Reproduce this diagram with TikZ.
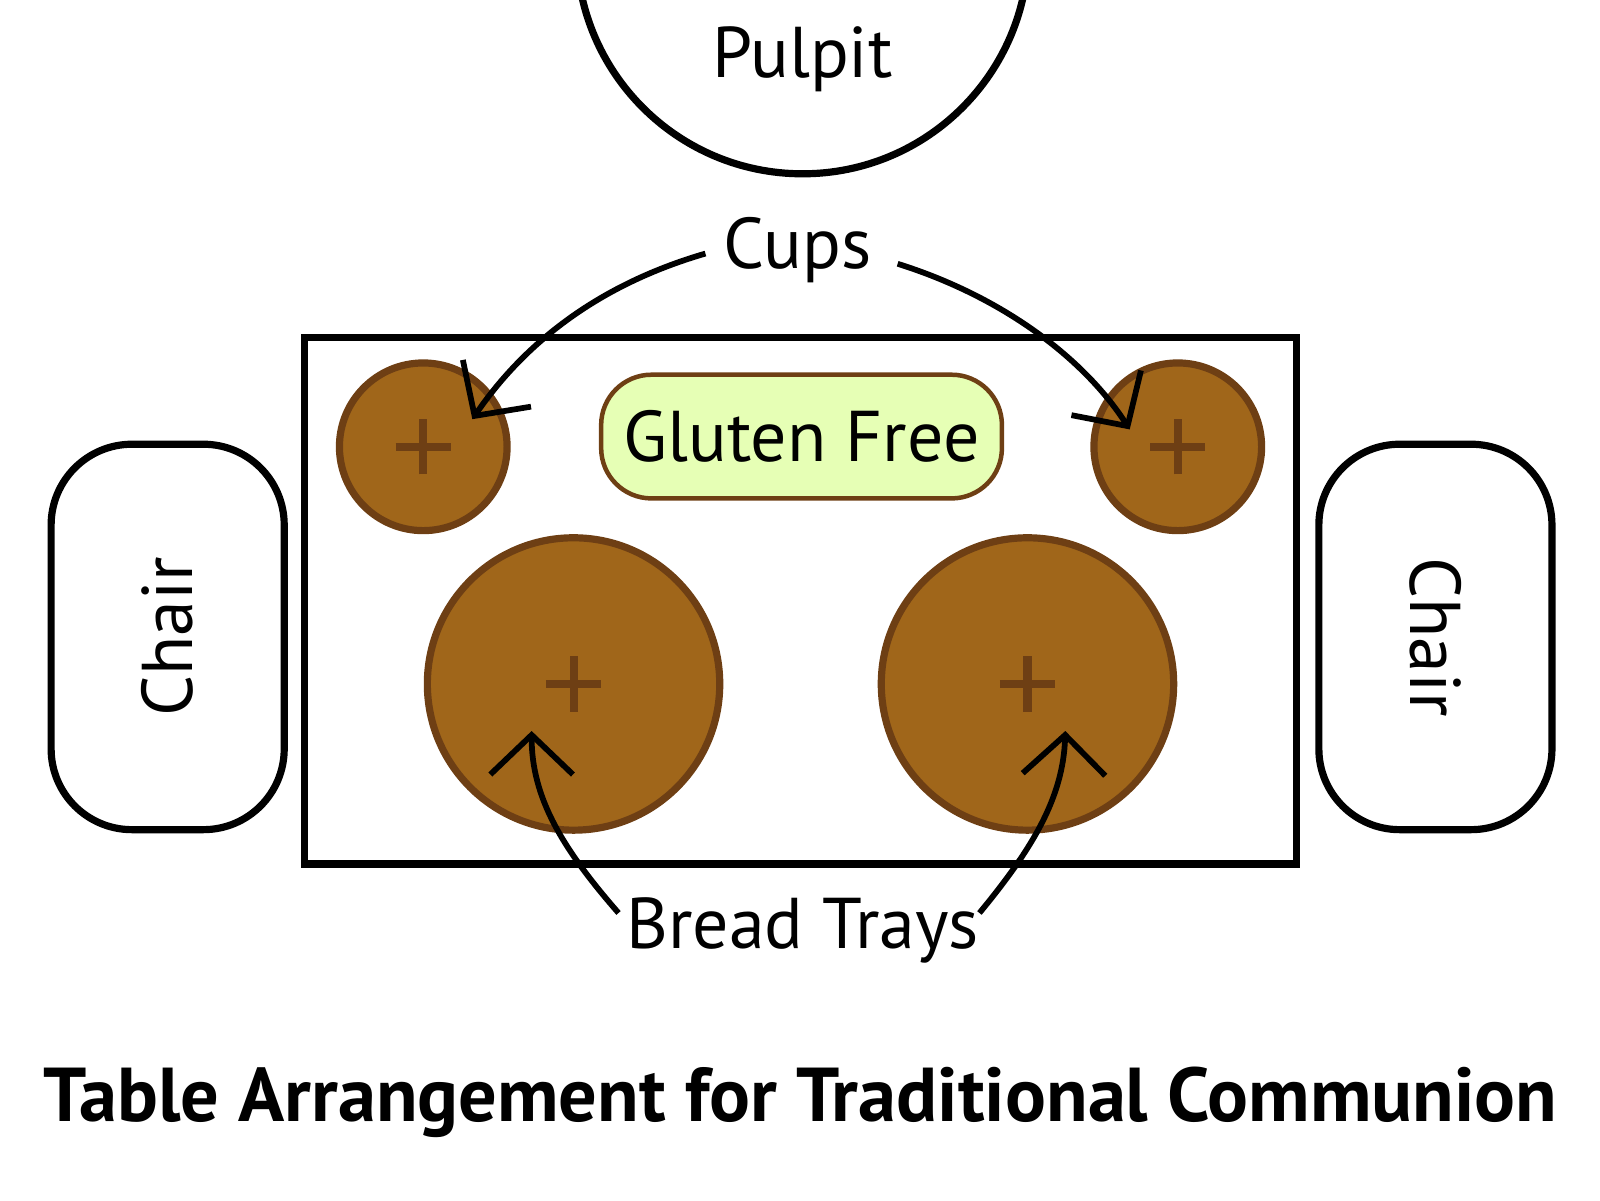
\documentclass[tikz,border=0pt]{standalone}
\usepackage{fontspec}
\setmainfont{PT Sans}
\usetikzlibrary{arrows.meta}
\definecolor{tray}{HTML}{A0661A}
\definecolor{rim}{HTML}{6E3F14}
\definecolor{gf}{HTML}{E6FFB5}
\begin{document}
\begin{tikzpicture}[x=0.02cm,y=-0.02cm,
  lbl/.style={font=\fontsize{40}{44}\selectfont},
  thick4/.style={line width=4pt},
  traycircle/.style={circle,fill=tray,draw=rim,line width=4pt,inner sep=0pt},
  plus/.style={draw=rim,line width=4.5pt},
  arr/.style={line width=3.2pt,-{Straight Barb[length=22pt,width=46pt,line width=3.2pt]}},
  chairbox/.style={draw,line width=4pt,rounded corners=45pt,minimum width=228*0.02cm,minimum height=377*0.02cm}]
\useasboundingbox (0,0) rectangle (1565,1174);
\draw[thick4] (785,-51) circle (221*0.02cm);
\node[lbl] (pulpit) at (785,58) {Pulpit};
\draw[thick4] (298,330) rectangle (1268,845);
\node[traycircle,minimum size=164*0.02cm] (c1) at (414,437) {};
\node[traycircle,minimum size=164*0.02cm] (c2) at (1152,437) {};
\node[traycircle,minimum size=286*0.02cm] (b1) at (561,669) {};
\node[traycircle,minimum size=286*0.02cm] (b2) at (1005,669) {};
\foreach \n in {c1,c2,b1,b2}{
  \draw[plus] ([xshift=-27*0.02cm]\n.center) -- ([xshift=27*0.02cm]\n.center);
  \draw[plus] ([yshift=-27*0.02cm]\n.center) -- ([yshift=27*0.02cm]\n.center);}
\node[lbl,draw=rim,fill=gf,line width=2.5pt,rounded corners=28pt,minimum width=392*0.02cm,minimum height=121*0.02cm] (gfree) at (784,427) {Gluten Free};
\node[chairbox] (ch1) at (164,623) {};
\node[lbl,rotate=90] at (ch1) {Chair};
\node[chairbox] (ch2) at (1404,623) {};
\node[lbl,rotate=-90] at (ch2) {Chair};
\node[lbl] (cups) at (780,245) {Cups};
\node[lbl] (bread) at (785,910) {Bread Trays};
\coordinate (a1) at (462,410);
\coordinate (a2) at (1105,420);
\coordinate (a3) at (520,715);
\coordinate (a4) at (1042,715);
\draw[arr] (690,248) .. controls (580,280) and (510,340) .. (a1);
\draw[arr] (878,258) .. controls (980,290) and (1060,350) .. (a2);
\draw[arr] (605,893) .. controls (550,830) and (520,780) .. (a3);
\draw[arr] (958,893) .. controls (1010,830) and (1040,780) .. (a4);
\node[font=\fontsize{42.5}{46}\selectfont\bfseries] (title) at (783,1078) {Table Arrangement for Traditional Communion};
\end{tikzpicture}
\end{document}
